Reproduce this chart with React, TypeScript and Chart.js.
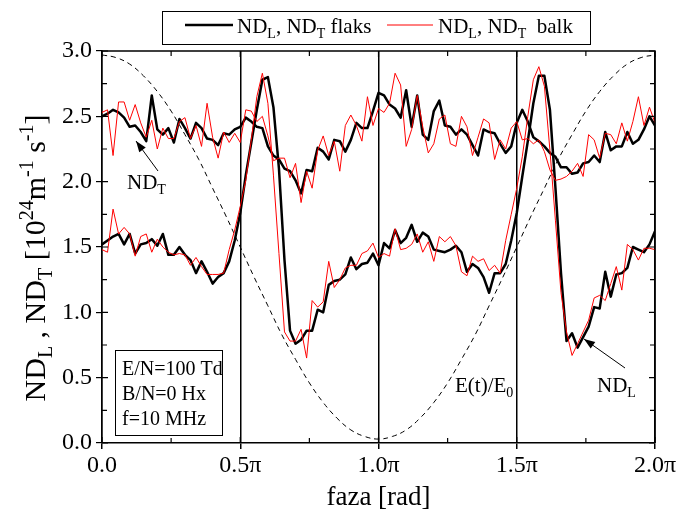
import React, { useEffect, useRef } from 'react';
import { Chart, registerables } from 'chart.js';

Chart.register(...registerables);

const FONT = "'Liberation Serif', serif";
Chart.defaults.font.family = FONT;

// x axis in units of π
const xTickLabels = ['0.0', '0.5π', '1.0π', '1.5π', '2.0π'];
const yTickLabels = ['0.0', '0.5', '1.0', '1.5', '2.0', '2.5', '3.0'];

const phaseStep = 0.02; // sampling step of the data, in π
const fieldStep = 0.05; // sampling step of the E(t)/E0 curve, in π

const ndTFlaks = [
  2.50, 2.52, 2.55, 2.53, 2.49, 2.42, 2.43, 2.38, 2.31, 2.66,
  2.40, 2.36, 2.41, 2.30, 2.48, 2.41, 2.33, 2.45, 2.41, 2.33,
  2.32, 2.28, 2.37, 2.36, 2.40, 2.42, 2.49, 2.46, 2.42, 2.41,
  2.27, 2.20, 2.17, 2.10, 2.08, 2.01, 1.91, 2.09, 2.08, 2.26,
  2.23, 2.17, 2.32, 2.31, 2.23, 2.32, 2.45, 2.41, 2.41, 2.54,
  2.68, 2.66, 2.59, 2.56, 2.49, 2.70, 2.42, 2.66, 2.36, 2.32,
  2.54, 2.62, 2.43, 2.42, 2.36, 2.40, 2.36, 2.28, 2.20, 2.40,
  2.38, 2.37, 2.29, 2.22, 2.27, 2.45, 2.55, 2.46, 2.34, 2.31,
  2.27, 2.22, 2.19, 2.11, 2.11, 2.06, 2.07, 2.14, 2.15, 2.20,
  2.15, 2.38, 2.24, 2.27, 2.27, 2.38, 2.29, 2.32, 2.40, 2.50, 2.43,
];

const ndTBalk = [
  2.53, 2.55, 2.20, 2.61, 2.61, 2.47, 2.59, 2.45, 2.34, 2.47,
  2.25, 2.41, 2.33, 2.33, 2.46, 2.49, 2.33, 2.43, 2.27, 2.60,
  2.34, 2.18, 2.38, 2.30, 2.37, 2.30, 2.55, 2.54, 2.46, 2.50,
  2.35, 2.16, 2.18, 2.18, 2.03, 2.14, 1.84, 2.08, 1.95, 2.24,
  2.35, 2.20, 2.31, 2.08, 2.43, 2.51, 2.43, 2.31, 2.65, 2.43,
  2.56, 2.53, 2.60, 2.83, 2.74, 2.27, 2.40, 2.66, 2.42, 2.22,
  2.29, 2.48, 2.51, 2.29, 2.27, 2.50, 2.42, 2.20, 2.34, 2.48,
  2.45, 2.17, 2.32, 2.25, 2.41, 2.46, 2.32, 2.33, 2.29, 2.32,
  2.23, 2.09, 2.01, 2.02, 2.04, 2.08, 2.14, 2.04, 2.36, 2.32,
  2.18, 2.37, 2.36, 2.29, 2.45, 2.31, 2.46, 2.65, 2.43, 2.57, 2.45,
];

const ndLFlaks = [
  1.52, 1.55, 1.58, 1.60, 1.52, 1.60, 1.45, 1.52, 1.53, 1.56,
  1.51, 1.60, 1.44, 1.44, 1.50, 1.44, 1.40, 1.30, 1.39, 1.31,
  1.22, 1.27, 1.30, 1.39, 1.55, 1.76, 2.05, 2.30, 2.55, 2.78,
  2.80, 2.57, 2.10, 1.40, 0.86, 0.76, 0.79, 0.86, 0.86, 1.02,
  1.00, 1.21, 1.24, 1.25, 1.29, 1.42, 1.33, 1.37, 1.38, 1.45,
  1.36, 1.53, 1.49, 1.63, 1.53, 1.57, 1.67, 1.54, 1.61, 1.58,
  1.48, 1.47, 1.46, 1.48, 1.51, 1.46, 1.31, 1.37, 1.34, 1.27,
  1.15, 1.30, 1.30, 1.37, 1.55, 1.76, 2.04, 2.31, 2.60, 2.81,
  2.81, 2.55, 1.95, 1.30, 0.78, 0.84, 0.73, 0.81, 0.89, 1.04,
  1.03, 1.31, 1.12, 1.29, 1.30, 1.34, 1.50, 1.48, 1.46, 1.52, 1.62,
];

const ndLBalk = [
  1.48, 1.46, 1.79, 1.60, 1.65, 1.60, 1.43, 1.58, 1.60, 1.46,
  1.56, 1.50, 1.46, 1.44, 1.45, 1.44, 1.36, 1.42, 1.35, 1.29,
  1.29, 1.29, 1.30, 1.48, 1.63, 1.81, 2.01, 2.32, 2.65, 2.83,
  2.60, 2.05, 1.45, 0.85, 0.78, 0.78, 0.87, 0.65, 1.09, 1.04,
  1.08, 1.39, 1.19, 1.25, 1.34, 1.36, 1.36, 1.45, 1.47, 1.53,
  1.42, 1.45, 1.43, 1.64, 1.48, 1.49, 1.52, 1.60, 1.46, 1.54,
  1.39, 1.58, 1.54, 1.58, 1.51, 1.31, 1.28, 1.43, 1.39, 1.41,
  1.32, 1.36, 1.30, 1.55, 1.75, 1.95, 2.19, 2.50, 2.78, 2.88,
  2.73, 2.24, 1.70, 1.15, 0.85, 0.67, 0.76, 0.85, 0.94, 1.11,
  1.13, 1.09, 1.22, 1.35, 1.17, 1.52, 1.48, 1.40, 1.49, 1.49, 1.48,
];

const fieldRatio = [
  2.97, 2.95, 2.90, 2.81, 2.69, 2.54, 2.36, 2.17, 1.95, 1.73,
  1.50, 1.27, 1.05, 0.83, 0.64, 0.46, 0.31, 0.19, 0.10, 0.05,
  0.03, 0.05, 0.10, 0.19, 0.31, 0.46, 0.64, 0.83, 1.05, 1.27,
  1.50, 1.73, 1.95, 2.17, 2.36, 2.54, 2.69, 2.81, 2.90, 2.95, 2.97,
];

const infoLines = ['E/N=100 Td', 'B/N=0 Hx', 'f=10 MHz'];

type Part = [string, 'n' | 'sub' | 'sup'];

function drawRich(ctx: CanvasRenderingContext2D, parts: Part[], x: number, y: number, size: number, measureOnly = false): number {
  const small = Math.round(size * 0.65);
  let cx = x;
  for (const [t, kind] of parts) {
    const fs = kind === 'n' ? size : small;
    ctx.font = `${fs}px ${FONT}`;
    const dy = kind === 'sub' ? size * 0.22 : kind === 'sup' ? -size * 0.4 : 0;
    if (!measureOnly) ctx.fillText(t, cx, y + dy);
    cx += ctx.measureText(t).width;
  }
  return cx - x;
}

function arrow(ctx: CanvasRenderingContext2D, x1: number, y1: number, x2: number, y2: number) {
  ctx.save();
  ctx.strokeStyle = '#000';
  ctx.fillStyle = '#000';
  ctx.lineWidth = 1;
  ctx.beginPath();
  ctx.moveTo(x1, y1);
  ctx.lineTo(x2, y2);
  ctx.stroke();
  const a = Math.atan2(y2 - y1, x2 - x1);
  const L = 11, W = 4;
  ctx.beginPath();
  ctx.moveTo(x2, y2);
  ctx.lineTo(x2 - L * Math.cos(a) + W * Math.sin(a), y2 - L * Math.sin(a) - W * Math.cos(a));
  ctx.lineTo(x2 - L * Math.cos(a) - W * Math.sin(a), y2 - L * Math.sin(a) + W * Math.cos(a));
  ctx.closePath();
  ctx.fill();
  ctx.restore();
}

const decorPlugin = {
  id: 'decor',
  afterDraw(chart: any) {
    const ctx: CanvasRenderingContext2D = chart.ctx;
    const { left, right, top, bottom } = chart.chartArea;
    const xs = chart.scales.x;
    const ys = chart.scales.y;
    ctx.save();
    ctx.strokeStyle = '#000';
    ctx.fillStyle = '#000';
    ctx.lineWidth = 1.5;
    ctx.beginPath();
    ctx.moveTo(left, top);
    ctx.lineTo(right, top);
    ctx.lineTo(right, bottom);
    ctx.stroke();
    ctx.lineWidth = 1.2;
    for (let k = 0; k <= 8; k++) {
      const px = xs.getPixelForValue(k * 0.25);
      const len = k % 2 === 0 ? 6 : 5;
      ctx.beginPath();
      ctx.moveTo(px, bottom); ctx.lineTo(px, bottom - len);
      ctx.moveTo(px, top); ctx.lineTo(px, top + len);
      ctx.stroke();
    }
    for (let k = 0; k <= 12; k++) {
      const py = ys.getPixelForValue(k * 0.25);
      const len = k % 2 === 0 ? 6 : 5;
      ctx.beginPath();
      ctx.moveTo(left, py); ctx.lineTo(left + len, py);
      ctx.moveTo(right, py); ctx.lineTo(right - len, py);
      ctx.stroke();
    }

    ctx.textBaseline = 'alphabetic';
    ctx.textAlign = 'left';

    // legend
    ctx.lineWidth = 1;
    ctx.strokeRect(162.5, 11.5, 428, 33);
    ctx.lineWidth = 2.5;
    ctx.beginPath(); ctx.moveTo(185, 25); ctx.lineTo(233, 25); ctx.stroke();
    drawRich(ctx, [['ND', 'n'], ['L', 'sub'], [', ND', 'n'], ['T', 'sub'], [' flaks', 'n']], 237, 33, 21);
    ctx.lineWidth = 1;
    ctx.strokeStyle = '#ff0000';
    ctx.beginPath(); ctx.moveTo(387, 25); ctx.lineTo(433, 25); ctx.stroke();
    ctx.strokeStyle = '#000';
    drawRich(ctx, [['ND', 'n'], ['L', 'sub'], [', ND', 'n'], ['T', 'sub'], ['  balk', 'n']], 438, 33, 21);

    // y title (rotated)
    const yParts: Part[] = [['ND', 'n'], ['L', 'sub'], [' , ND', 'n'], ['T', 'sub'], [' [10', 'n'], ['24', 'sup'], ['m', 'n'], ['-1', 'sup'], [' s', 'n'], ['-1', 'sup'], [']', 'n']];
    ctx.save();
    ctx.translate(45, 258);
    ctx.rotate(-Math.PI / 2);
    const w = drawRich(ctx, yParts, 0, 0, 30, true);
    drawRich(ctx, yParts, -w / 2, 0, 30);
    ctx.restore();

    // x title
    ctx.font = `27px ${FONT}`;
    ctx.textAlign = 'center';
    ctx.fillText('faza [rad]', (left + right) / 2, 505);
    ctx.textAlign = 'left';

    // info box
    ctx.lineWidth = 1;
    ctx.strokeRect(115.5, 350.5, 107, 85);
    ctx.font = `20px ${FONT}`;
    infoLines.forEach((t, i) => ctx.fillText(t, 122, 375 + i * 25));

    // annotations
    drawRich(ctx, [['ND', 'n'], ['T', 'sub']], 127, 189, 21);
    arrow(ctx, 158, 171, 136, 141);
    drawRich(ctx, [['ND', 'n'], ['L', 'sub']], 597, 392, 21);
    arrow(ctx, 625, 368, 584, 339);
    drawRich(ctx, [['E(t)/E', 'n'], ['0', 'sub']], 455, 392, 21);

    ctx.restore();
  },
};

function series(values: number[], step: number) {
  return values.map((v, i) => ({ x: i * step, y: v }));
}

export default function App() {
  const ref = useRef<HTMLCanvasElement | null>(null);
  useEffect(() => {
    if (!ref.current) return;
    const tickFont = { family: FONT, size: 24 };
    const common = { pointRadius: 0, tension: 0, borderJoinStyle: 'round', borderCapStyle: 'round' };
    const chart = new Chart(ref.current, {
      type: 'line',
      data: {
        datasets: [
          { label: 'ND_T balk', data: series(ndTBalk, phaseStep), borderColor: '#ff0000', borderWidth: 1, order: 0, ...common },
          { label: 'ND_L balk', data: series(ndLBalk, phaseStep), borderColor: '#ff0000', borderWidth: 1, order: 0, ...common },
          { label: 'ND_T flaks', data: series(ndTFlaks, phaseStep), borderColor: '#000000', borderWidth: 2.5, order: 1, ...common },
          { label: 'ND_L flaks', data: series(ndLFlaks, phaseStep), borderColor: '#000000', borderWidth: 2.5, order: 1, ...common },
          { label: 'E(t)/E0', data: series(fieldRatio, fieldStep), borderColor: '#000000', borderWidth: 1, borderDash: [5, 4], pointRadius: 0, tension: 0.4, order: 2 },
        ],
      },
      options: {
        responsive: false,
        animation: false,
        parsing: false as any,
        font: { family: FONT },
        layout: { padding: { top: 51, right: 24, left: 0, bottom: 0 } },
        plugins: { legend: { display: false }, tooltip: { enabled: false }, title: { display: false } },
        scales: {
          x: {
            type: 'linear',
            min: 0,
            max: 2,
            afterFit: (s: any) => { s.height = 69; },
            ticks: {
              stepSize: 0.5,
              color: '#000',
              font: tickFont,
              padding: 2,
              maxRotation: 0,
              callback: (_v: any, i: number) => xTickLabels[i],
            },
            grid: { display: true, drawOnChartArea: true, drawTicks: true, tickLength: 6, color: '#000', lineWidth: 1.5 },
            border: { display: true, color: '#000', width: 1.5 },
          },
          y: {
            type: 'linear',
            min: 0,
            max: 3,
            afterFit: (s: any) => { s.width = 102; },
            ticks: {
              stepSize: 0.5,
              color: '#000',
              font: tickFont,
              padding: 4,
              callback: (_v: any, i: number) => yTickLabels[i],
            },
            grid: { display: true, drawOnChartArea: false, drawTicks: true, tickLength: 6, color: '#000', lineWidth: 1.2 },
            border: { display: true, color: '#000', width: 1.5 },
          },
        },
      } as any,
      plugins: [decorPlugin],
    });
    return () => chart.destroy();
  }, []);
  return (
    <div style={{ position: 'fixed', left: 0, top: 0, width: 679, height: 512, background: '#fff' }}>
      <canvas ref={ref} width={679} height={512} style={{ display: 'block', width: 679, height: 512 }} />
    </div>
  );
}
